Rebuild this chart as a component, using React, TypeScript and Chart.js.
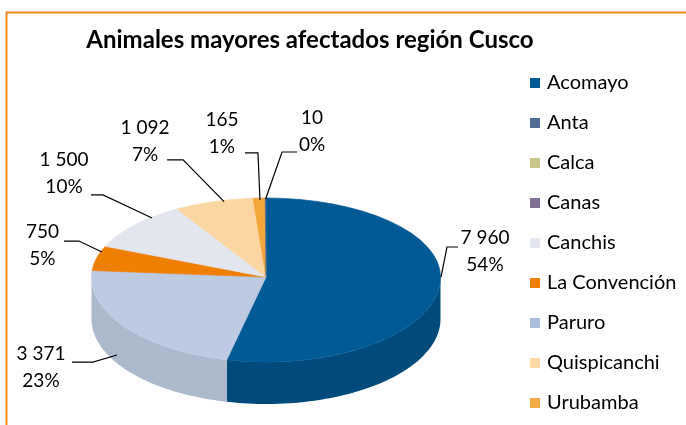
import React, { useEffect, useRef } from "react";
import { Chart, registerables } from "chart.js";

Chart.register(...registerables);

// ---------- data ----------
const titleText = "Animales mayores afectados región Cusco";
// slices in the order they appear clockwise from 12 o'clock
const sliceCategories = ["Acomayo", "Paruro", "La Convención", "Canchis", "Quispicanchi", "Urubamba", "Anta"];
const sliceValues = [7960, 3371, 750, 1500, 1092, 165, 10];
// legend order
const legendCategories = ["Acomayo", "Anta", "Calca", "Canas", "Canchis", "La Convención", "Paruro", "Quispicanchi", "Urubamba"];

// ---------- styles ----------
const topColors = ["#005a96", "#bccbe2", "#ef7f00", "#e3e6ee", "#fcd6a2", "#f5a63a", "#4f6d95"];
const sideColors = ["#004a7c", "#abb9cc", "#c86a00", "#c8ccd6", "#dcb888", "#d08c30", "#3f5a7d"];
const legendColors = ["#005a96", "#4f6d95", "#c9c58c", "#807096", "#e4e7ef", "#ef7f00", "#a9bddc", "#fdd7a4", "#f6aa44"];

const FONT = "Lato, 'Noto Sans', sans-serif";
const GEO = { cx: 266, cy: 277, rx: 174.5, ryBack: 79, ryFront: 85, depth: 42 };
const FRAME_COLOR = "#f18a1d";

// label leader/text offsets relative to each slice's mid-angle edge point
const LABEL_LAYOUT = [
  { start: [1.6, -9.6], elbow: [7.6, -39.6], end: [18.6, -39.6], text: [45.6, -35.6] },
  { start: [-8.1, 27.9], elbow: [-32.1, 34.9], end: [-53.1, 34.9], text: [-84.1, 39.9] },
  { start: [5.4, -6.1], elbow: [-17.6, -17.1], end: [-32.6, -17.1], text: [-54.1, -13.1] },
  { start: [17.5, -7.1], elbow: [-31.5, -30.1], end: [-43.5, -30.1], text: [-70.5, -51.4] },
  { start: [10.5, 0], elbow: [-30.5, -41.7], end: [-46.5, -41.7], text: [-68.5, -60.7] },
  { start: [0.8, 1.9], elbow: [-1.2, -45.1], end: [-14.2, -45.1], text: [-37.2, -64.4] },
  { start: [0, 1], elbow: [16.4, -46], end: [31.4, -46], text: [46.4, -66.3] },
];
const LEGEND_LAYOUT = { boxX: 530, textX: 547, firstY: 83, step: 40, box: 10 };

const formatValue = (v: number) => String(v).replace(/\B(?=(\d{3})+(?!\d))/g, " ");

function project(theta: number, dy = 0) {
  const s = Math.sin(theta);
  const ry = s < 0 ? GEO.ryBack : GEO.ryFront;
  return [GEO.cx + GEO.rx * Math.cos(theta), GEO.cy + ry * s + dy];
}

const pie3d = {
  id: "pie3d",
  beforeDatasetsDraw(chart: any) {
    const ctx = chart.ctx as CanvasRenderingContext2D;
    const arcs = chart.getDatasetMeta(0).data as any[];
    if (!arcs.length) return false;
    const R = arcs[0].outerRadius;
    const ax = arcs[0].x;
    const ay = arcs[0].y;

    // side walls (front half only)
    arcs.forEach((arc, i) => {
      const a1 = Math.max(arc.startAngle, 0);
      const a2 = Math.min(arc.endAngle, Math.PI);
      if (a2 <= a1) return;
      const steps = 60;
      ctx.save();
      ctx.beginPath();
      for (let k = 0; k <= steps; k++) {
        const t = a1 + ((a2 - a1) * k) / steps;
        const [x, y] = project(t);
        if (k === 0) ctx.moveTo(x, y);
        else ctx.lineTo(x, y);
      }
      for (let k = steps; k >= 0; k--) {
        const t = a1 + ((a2 - a1) * k) / steps;
        const [x, y] = project(t, GEO.depth);
        ctx.lineTo(x, y);
      }
      ctx.closePath();
      ctx.fillStyle = sideColors[i];
      ctx.fill();
      ctx.restore();
    });

    // top face: back half and front half with different squash
    const W = chart.width;
    const H = chart.height;
    [
      { ry: GEO.ryBack, y0: 0, y1: GEO.cy + 0.5 },
      { ry: GEO.ryFront, y0: GEO.cy - 0.5, y1: H },
    ].forEach((half) => {
      ctx.save();
      ctx.beginPath();
      ctx.rect(0, half.y0, W, half.y1 - half.y0);
      ctx.clip();
      ctx.translate(GEO.cx, GEO.cy);
      ctx.scale(GEO.rx / R, half.ry / R);
      ctx.translate(-ax, -ay);
      arcs.forEach((arc) => arc.draw(ctx));
      ctx.restore();
    });
    return false;
  },
  afterDraw(chart: any) {
    const ctx = chart.ctx as CanvasRenderingContext2D;
    const arcs = chart.getDatasetMeta(0).data as any[];
    const values = chart.data.datasets[0].data as number[];
    const total = values.reduce((a, b) => a + b, 0);

    // data labels
    arcs.forEach((arc, i) => {
      const mid = (arc.startAngle + arc.endAngle) / 2;
      const [px, py] = project(mid);
      const L = LABEL_LAYOUT[i];
      ctx.save();
      ctx.strokeStyle = "#000";
      ctx.lineWidth = 1.2;
      ctx.beginPath();
      ctx.moveTo(px + L.start[0], py + L.start[1]);
      ctx.lineTo(px + L.elbow[0], py + L.elbow[1]);
      ctx.lineTo(px + L.end[0], py + L.end[1]);
      ctx.stroke();
      ctx.fillStyle = "#000";
      ctx.font = `19px ${FONT}`;
      ctx.textAlign = "center";
      ctx.textBaseline = "middle";
      const tx = px + L.text[0];
      const ty = py + L.text[1];
      ctx.fillText(formatValue(values[i]), tx, ty - 13.5);
      ctx.fillText(Math.round((values[i] / total) * 100) + "%", tx, ty + 13.5);
      ctx.restore();
    });

    // legend
    ctx.save();
    ctx.font = `20px ${FONT}`;
    ctx.textBaseline = "middle";
    ctx.textAlign = "left";
    legendCategories.forEach((name, i) => {
      const y = LEGEND_LAYOUT.firstY + LEGEND_LAYOUT.step * i;
      ctx.fillStyle = legendColors[i];
      ctx.fillRect(LEGEND_LAYOUT.boxX, y - LEGEND_LAYOUT.box / 2, LEGEND_LAYOUT.box, LEGEND_LAYOUT.box);
      ctx.fillStyle = "#000";
      ctx.fillText(name, LEGEND_LAYOUT.textX, y);
    });
    ctx.restore();

    // frame
    ctx.save();
    ctx.strokeStyle = FRAME_COLOR;
    ctx.lineWidth = 2;
    ctx.beginPath();
    ctx.moveTo(chart.width, 12.5);
    ctx.lineTo(6.5, 12.5);
    ctx.lineTo(6.5, chart.height);
    ctx.stroke();
    ctx.restore();
  },
};

export default function App() {
  const ref = useRef<HTMLCanvasElement | null>(null);
  useEffect(() => {
    document.body.style.margin = "0";
    if (!ref.current) return;
    const chart = new Chart(ref.current, {
      type: "pie",
      data: {
        labels: sliceCategories,
        datasets: [
          {
            data: sliceValues,
            backgroundColor: topColors,
            borderColor: topColors,
            borderWidth: 1,
          },
        ],
      },
      options: {
        responsive: false,
        animation: false,
        devicePixelRatio: 1,
        layout: { padding: { top: 0, left: 0, right: 66, bottom: 0 } },
        plugins: {
          legend: { display: false },
          tooltip: { enabled: false },
          title: {
            display: true,
            text: titleText,
            color: "#000",
            font: { family: FONT, size: 24, weight: "bold" },
            padding: { top: 26, bottom: 10 },
          },
        },
      },
      plugins: [pie3d],
    });
    return () => chart.destroy();
  }, []);
  return (
    <div style={{ width: 686, height: 425, background: "#fff" }}>
      <canvas ref={ref} width={686} height={425} style={{ display: "block" }} />
    </div>
  );
}
